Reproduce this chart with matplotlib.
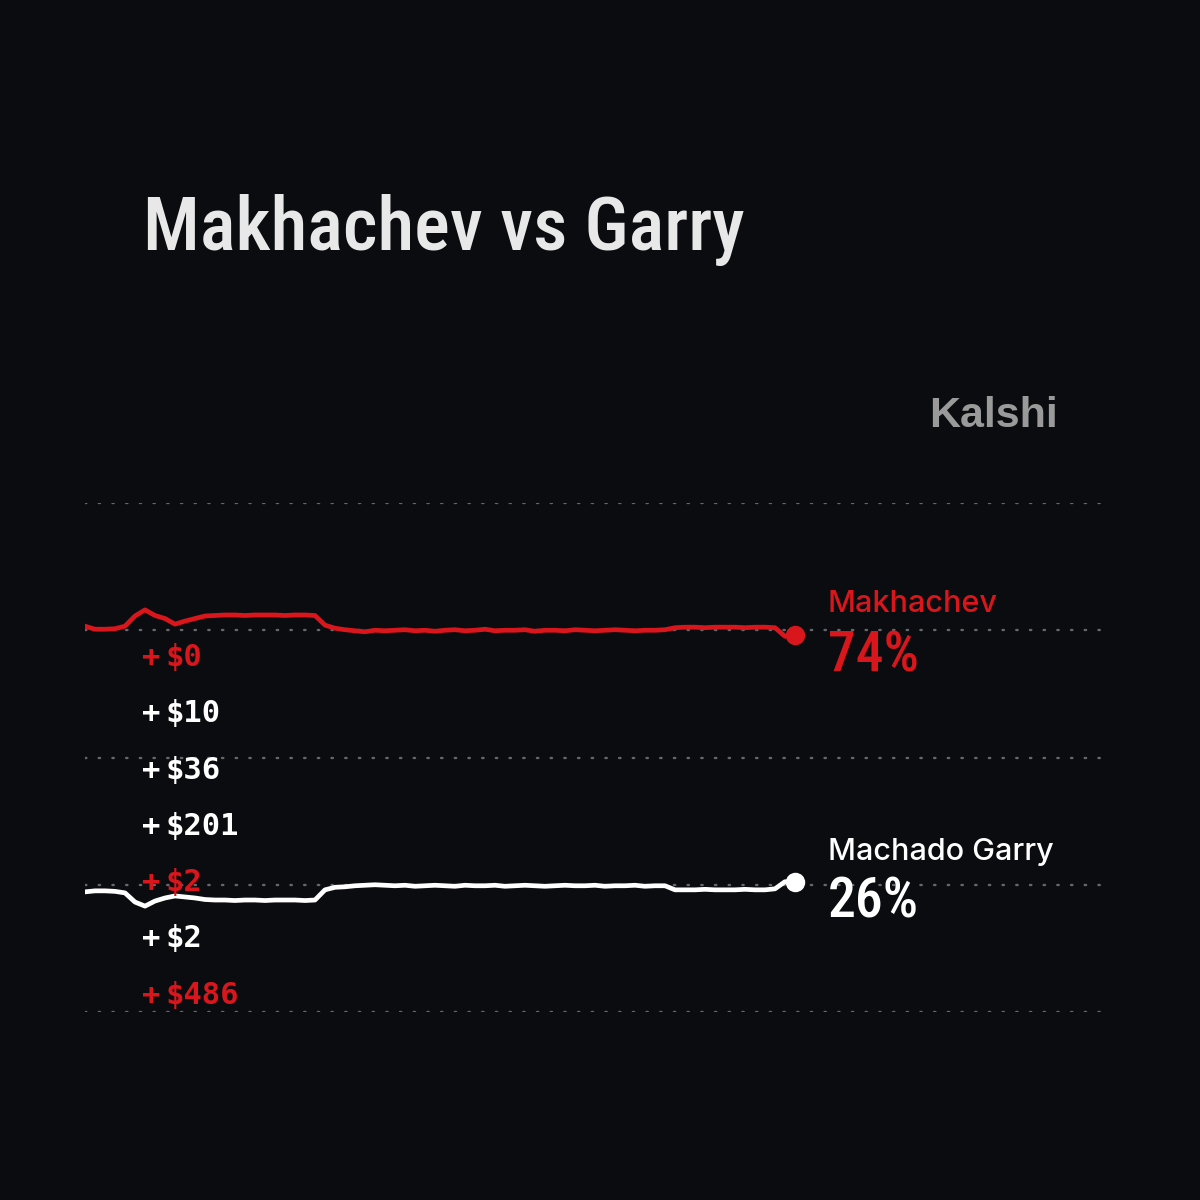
import numpy as np
import matplotlib
matplotlib.use('Agg')
import matplotlib.pyplot as plt
from matplotlib import font_manager as fm

# price history (% chance), one point per step
makhachev=[75.8,75.2,75.2,75.3,75.8,77.8,79.0,77.9,77.3,76.2,
           76.8,77.3,77.8,77.9,78.0,78.0,77.9,78.0,78.0,78.0,
           77.9,78.0,78.0,77.9,76.0,75.4,75.1,74.9,74.7,75.0,
           74.9,75.0,75.1,74.9,75.0,74.8,75.0,75.1,74.9,75.0,
           75.2,74.9,75.0,75.0,75.1,74.8,75.0,75.0,74.9,75.1,
           75.0,74.9,75.0,75.1,75.0,74.9,75.0,75.0,75.1,75.5,
           75.6,75.6,75.5,75.6,75.6,75.6,75.5,75.6,75.6,75.5,
           73.8,74.1]
garry=[23.6,23.8,23.8,23.7,23.4,21.6,20.8,21.8,22.4,22.8,
       22.6,22.4,22.1,22.0,22.0,21.9,22.0,22.0,21.9,22.0,
       22.0,22.0,21.9,22.0,24.0,24.5,24.6,24.8,24.9,25.0,
       24.9,24.8,24.9,24.7,24.8,24.9,24.8,24.7,24.9,24.8,
       24.8,24.9,24.7,24.8,24.9,24.8,24.7,24.8,24.9,24.8,
       24.8,24.9,24.7,24.8,24.8,24.9,24.7,24.8,24.8,24.0,
       24.0,24.0,24.1,24.0,24.0,24.0,24.1,24.0,24.0,24.2,
       25.6,25.6]
steps=np.arange(len(makhachev))

names=['Makhachev','Machado Garry']
final_pct=[74,26]
bet_amounts=[0,10,36,201,2,2,486]
bet_side=['Makhachev','Garry','Garry','Garry','Makhachev','Garry','Makhachev']
grid_levels=[0,25,50,75,100]

bg='#0b0c10'
red='#d9161c'
white='#ffffff'

# look for a condensed face for the headline type
def condensed_font(pref_weight):
  best=None
  order=['Roboto Condensed','Liberation Sans Narrow','DejaVu Sans','Open Sans Condensed','Noto Sans']
  for f in fm.fontManager.ttflist:
    st=str(f.stretch).lower()
    if not ('condensed' in f.name.lower() or 'narrow' in f.name.lower() or 'condensed' in st or 'narrow' in st):
      continue
    if 'italic' in str(f.style).lower() or 'oblique' in str(f.style).lower():
      continue
    try: w=int(f.weight)
    except: w={'normal':400,'regular':400,'medium':500,'bold':700,'light':300,'semibold':600,'black':900}.get(str(f.weight).lower(),400)
    rank=next((i for i,n in enumerate(order) if f.name.startswith(n)),len(order))
    score=(rank,abs(w-pref_weight))
    if best is None or score<best[0]:
      best=(score,f)
  if best is None:
    return fm.FontProperties(family='Liberation Sans',weight=pref_weight)
  return fm.FontProperties(fname=best[1].fname)

title_font=condensed_font(500)
pct_font=condensed_font(500)

fig=plt.figure(figsize=(12,12),dpi=100,facecolor=bg)
ax=fig.add_axes([85/1200,188/1200,1020/1200,509/1200])
ax.set_facecolor(bg)

ax.set_ylim(0,100)
ax.set_xlim(0,(len(steps)-1)*1020/710)
ax.set_yticks(grid_levels)
ax.set_xticks([])
ax.tick_params(left=False,labelleft=False)
for s in ax.spines.values(): s.set_visible(False)
for g in grid_levels:
  ax.axhline(g,color='#66676c',lw=1.7,linestyle=(0,(0.6,5.2)),dash_capstyle='round',zorder=1)

ax.plot(steps,makhachev,color=red,lw=3.4,solid_joinstyle='round',zorder=3)
ax.plot(steps,garry,color=white,lw=3.4,solid_joinstyle='round',zorder=3)
ax.plot(steps[-1],makhachev[-1],'o',color=red,ms=13,zorder=4)
ax.plot(steps[-1],garry[-1],'o',color=white,ms=13,zorder=4)

# headline and brand
fig.text(143/1200,1-250/1200,'Makhachev vs Garry',fontproperties=title_font,fontsize=54,color='#e8e8e8',va='baseline',ha='left')
fig.text(929/1200,1-427/1200,'Kalshi',family='Liberation Sans',weight='bold',fontsize=31,color='#9a9a9a',va='baseline',ha='left')

# right-hand labels
fig.text(828/1200,1-612/1200,names[0],family='Inter',weight='medium',fontsize=22,color=red,va='baseline')
fig.text(828/1200,1-671/1200,'%d%%'%final_pct[0],fontproperties=pct_font,fontsize=40,color=red,va='baseline')
fig.text(828/1200,1-860/1200,names[1],family='Inter',weight='medium',fontsize=22,color=white,va='baseline')
fig.text(828/1200,1-918/1200,'%d%%'%final_pct[1],fontproperties=pct_font,fontsize=40,color=white,va='baseline')

# trade ticker
for i,(amt,side) in enumerate(zip(bet_amounts,bet_side)):
  c=red if side=='Makhachev' else white
  y=1-(666+56.3*i)/1200
  fig.text(142/1200,y,'+',family='DejaVu Sans Mono',weight='bold',fontsize=22,color=c,va='baseline',zorder=5)
  fig.text(165/1200,y,'$%d'%amt,family='DejaVu Sans Mono',weight='bold',fontsize=22,color=c,va='baseline',zorder=5)

plt.savefig('out.png',dpi=100,facecolor=bg)
